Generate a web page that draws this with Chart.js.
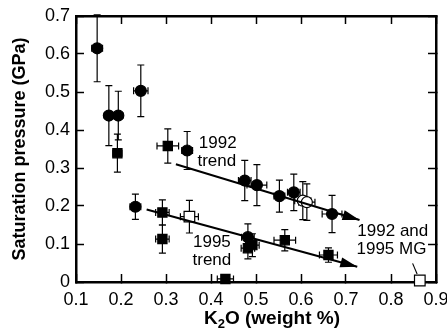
<!DOCTYPE html>
<html>
<head>
<meta charset="utf-8">
<script src="https://cdn.jsdelivr.net/npm/chart.js@4.4.1/dist/chart.umd.min.js"></script>
<style>
  html, body { margin: 0; padding: 0; background: #fff; }
  #wrap { width: 447px; height: 334px; }
</style>
</head>
<body>
<div id="wrap"><canvas id="chart" width="447" height="334"></canvas></div>
<script>
// values (K2O wt%, pressure GPa, error half-widths)
const dotX    = [0.147, 0.173, 0.194, 0.244, 0.232, 0.347, 0.475, 0.502, 0.552, 0.584, 0.669, 0.482];
const dotY    = [0.615, 0.438, 0.438, 0.503, 0.198, 0.346, 0.267, 0.255, 0.226, 0.236, 0.179, 0.118];
const dotXErr = [0.012, 0.010, 0.010, 0.016, 0.012, 0.012, 0.014, 0.022, 0.012, 0.014, 0.022, 0.014];
const dotYErr = [0.088, 0.079, 0.064, 0.068, 0.033, 0.050, 0.053, 0.054, 0.042, 0.048, 0.049, 0.035];

const boxX    = [0.192, 0.304, 0.292, 0.292, 0.482, 0.492, 0.564, 0.661, 0.432];
const boxY    = [0.339, 0.358, 0.183, 0.113, 0.089, 0.097, 0.110, 0.071, 0.008];
const boxXErr = [0.010, 0.024, 0.015, 0.015, 0.015, 0.015, 0.024, 0.020, 0.018];
const boxYErr = [0.050, 0.045, 0.033, 0.037, 0.028, 0.030, 0.028, 0.019, 0];

// MG samples (open markers)
const openDotX    = [0.604, 0.613];
const openDotY    = [0.214, 0.210];
const openDotXErr = [0.018, 0.018];
const openDotYErr = [0.050, 0.048];

const openBoxX    = [0.352, 0.864];
const openBoxY    = [0.172, 0.004];
const openBoxXErr = [0.020, 0];
const openBoxYErr = [0.043, 0];

// trend lines
const trend92X = [0.322, 0.730];
const trend92Y = [0.310, 0.163];
const trend95X = [0.257, 0.725];
const trend95Y = [0.191, 0.040];

const xTicks = [0.1, 0.2, 0.3, 0.4, 0.5, 0.6, 0.7, 0.8, 0.9];
const yTicks = [0, 0.1, 0.2, 0.3, 0.4, 0.5, 0.6, 0.7];

const notes = [
  { text: "1992", x: 0.415, y: 0.366 },
  { text: "trend", x: 0.413, y: 0.318 },
  { text: "1995", x: 0.402, y: 0.104 },
  { text: "trend", x: 0.402, y: 0.058 },
  { text: "1992 and", x: 0.804, y: 0.134 },
  { text: "1995 MG", x: 0.801, y: 0.087 },
];
const mgLeader = { x1: 0.848, y1: 0.049, x2: 0.858, y2: 0.021 };

const FONT = "'Liberation Sans', Arial, Helvetica, sans-serif";

function pts(xs, ys) {
  return xs.map((x, i) => ({ x, y: ys[i] }));
}

// error bars, drawn under the markers
const errorBars = {
  id: "errorBars",
  beforeDatasetsDraw(chart) {
    const { ctx } = chart;
    const xs = chart.scales.x, ys = chart.scales.y;
    const cap = 3.5;
    ctx.save();
    ctx.strokeStyle = "#000";
    ctx.lineWidth = 1.2;
    chart.data.datasets.forEach((ds) => {
      if (!ds.errX) return;
      ds.data.forEach((p, j) => {
        const cx = xs.getPixelForValue(p.x), cy = ys.getPixelForValue(p.y);
        const ex = ds.errX[j], ey = ds.errY[j];
        ctx.beginPath();
        if (ey) {
          const t = ys.getPixelForValue(p.y + ey), b = ys.getPixelForValue(p.y - ey);
          ctx.moveTo(cx, t); ctx.lineTo(cx, b);
          ctx.moveTo(cx - cap, t); ctx.lineTo(cx + cap, t);
          ctx.moveTo(cx - cap, b); ctx.lineTo(cx + cap, b);
        }
        if (ex) {
          const l = xs.getPixelForValue(p.x - ex), r = xs.getPixelForValue(p.x + ex);
          ctx.moveTo(l, cy); ctx.lineTo(r, cy);
          ctx.moveTo(l, cy - cap); ctx.lineTo(l, cy + cap);
          ctx.moveTo(r, cy - cap); ctx.lineTo(r, cy + cap);
        }
        ctx.stroke();
      });
    });
    ctx.restore();
  },
};

// arrow heads, leader line, labels
const overlay = {
  id: "overlay",
  afterDraw(chart) {
    const { ctx } = chart;
    const xs = chart.scales.x, ys = chart.scales.y;

    ctx.save();
    ctx.fillStyle = "#000";

    chart.data.datasets.forEach((ds) => {
      if (!ds.arrow) return;
      const n = ds.data.length;
      const p0 = ds.data[n - 2], p1 = ds.data[n - 1];
      const x0 = xs.getPixelForValue(p0.x), y0 = ys.getPixelForValue(p0.y);
      const x1 = xs.getPixelForValue(p1.x), y1 = ys.getPixelForValue(p1.y);
      const ang = Math.atan2(y1 - y0, x1 - x0);
      const len = 17, half = 5;
      const c = Math.cos(ang), s = Math.sin(ang);
      ctx.beginPath();
      ctx.moveTo(x1, y1);
      ctx.lineTo(x1 - len * c + half * s, y1 - len * s - half * c);
      ctx.lineTo(x1 - len * c - half * s, y1 - len * s + half * c);
      ctx.closePath();
      ctx.fill();
    });

    ctx.strokeStyle = "#000";
    ctx.lineWidth = 1.1;
    ctx.beginPath();
    ctx.moveTo(xs.getPixelForValue(mgLeader.x1), ys.getPixelForValue(mgLeader.y1));
    ctx.lineTo(xs.getPixelForValue(mgLeader.x2), ys.getPixelForValue(mgLeader.y2));
    ctx.stroke();

    ctx.font = "17px " + FONT;
    ctx.textAlign = "center";
    ctx.textBaseline = "middle";
    notes.forEach((n) => {
      ctx.fillText(n.text, xs.getPixelForValue(n.x), ys.getPixelForValue(n.y));
    });

    // x axis title with subscript
    ctx.textAlign = "left";
    ctx.textBaseline = "alphabetic";
    const big = "bold 19px " + FONT, small = "bold 13px " + FONT;
    ctx.font = big;
    const wK = ctx.measureText("K").width;
    const wRest = ctx.measureText("O (weight %)").width;
    ctx.font = small;
    const w2 = ctx.measureText("2").width;
    let x = 272 - (wK + w2 + wRest) / 2;
    const base = 324;
    ctx.font = big;
    ctx.fillText("K", x, base);
    x += wK;
    ctx.font = small;
    ctx.fillText("2", x, base + 4);
    x += w2;
    ctx.font = big;
    ctx.fillText("O (weight %)", x, base);
    ctx.restore();
  },
};

const marker = (style, fill, r) => ({
  type: "scatter",
  pointStyle: style,
  pointRadius: r,
  pointHoverRadius: r,
  backgroundColor: fill,
  borderColor: "#000",
  borderWidth: 1.2,
  clip: false,
});

const trendLine = (xs, ys) => ({
  type: "line",
  data: pts(xs, ys),
  showLine: true,
  borderColor: "#000",
  borderWidth: 2,
  pointRadius: 0,
  fill: false,
  tension: 0,
  arrow: true,
});

// frame sides and inward ticks come from the axes themselves
const inwardGrid = {
  display: true,
  drawOnChartArea: false,
  drawTicks: true,
  tickLength: -8,
  tickWidth: 1.5,
  tickColor: "#000",
  color: "#000",
};
const frameBorder = { display: true, color: "#000", width: 2.5 };

new Chart(document.getElementById("chart"), {
  type: "scatter",
  data: {
    datasets: [
      trendLine(trend92X, trend92Y),
      trendLine(trend95X, trend95Y),
      { ...marker("circle", "#000", 5.5), data: pts(dotX, dotY), errX: dotXErr, errY: dotYErr },
      { ...marker("rect", "#000", 6.5), data: pts(boxX, boxY), errX: boxXErr, errY: boxYErr },
      { ...marker("circle", "#fff", 5.5), data: pts(openDotX, openDotY), errX: openDotXErr, errY: openDotYErr },
      { ...marker("rect", "#fff", 7.5), data: pts(openBoxX, openBoxY), errX: openBoxXErr, errY: openBoxYErr },
    ],
  },
  options: {
    responsive: false,
    animation: false,
    devicePixelRatio: 1,
    layout: { padding: { left: 0, right: 11, top: 16, bottom: 0 } },
    plugins: { legend: { display: false }, tooltip: { enabled: false } },
    scales: {
      x: {
        type: "linear",
        position: "bottom",
        min: 0.1,
        max: 0.9,
        afterBuildTicks: (s) => { s.ticks = xTicks.map((v) => ({ value: v })); },
        afterFit: (s) => { s.height = 52; s.paddingLeft = 0; s.paddingRight = 0; },
        ticks: {
          color: "#000",
          font: { family: FONT, size: 18 },
          padding: 15,
          callback: (v) => v.toFixed(1),
        },
        grid: inwardGrid,
        border: frameBorder,
      },
      xTop: {
        type: "linear",
        position: "top",
        min: 0.1,
        max: 0.9,
        afterBuildTicks: (s) => { s.ticks = xTicks.map((v) => ({ value: v })); },
        afterFit: (s) => { s.height = 0; s.paddingLeft = 0; s.paddingRight = 0; },
        ticks: { display: false },
        grid: inwardGrid,
        border: frameBorder,
      },
      y: {
        type: "linear",
        position: "left",
        min: 0,
        max: 0.7,
        afterBuildTicks: (s) => { s.ticks = yTicks.map((v) => ({ value: v })); },
        afterFit: (s) => { s.width = 76; s.paddingTop = 0; s.paddingBottom = 0; },
        ticks: {
          color: "#000",
          font: { family: FONT, size: 18 },
          padding: 14,
          callback: (v) => (v === 0 ? "0" : v.toFixed(1)),
        },
        grid: inwardGrid,
        border: frameBorder,
        title: {
          display: true,
          text: "Saturation pressure (GPa)",
          color: "#000",
          font: { family: FONT, size: 18, weight: "bold" },
          padding: { top: 9, bottom: 0 },
        },
      },
      yRight: {
        type: "linear",
        position: "right",
        min: 0,
        max: 0.7,
        afterBuildTicks: (s) => { s.ticks = yTicks.map((v) => ({ value: v })); },
        afterFit: (s) => { s.width = 0; s.paddingTop = 0; s.paddingBottom = 0; },
        ticks: { display: false },
        grid: inwardGrid,
        border: frameBorder,
      },
    },
  },
  plugins: [errorBars, overlay],
});
</script>
</body>
</html>
